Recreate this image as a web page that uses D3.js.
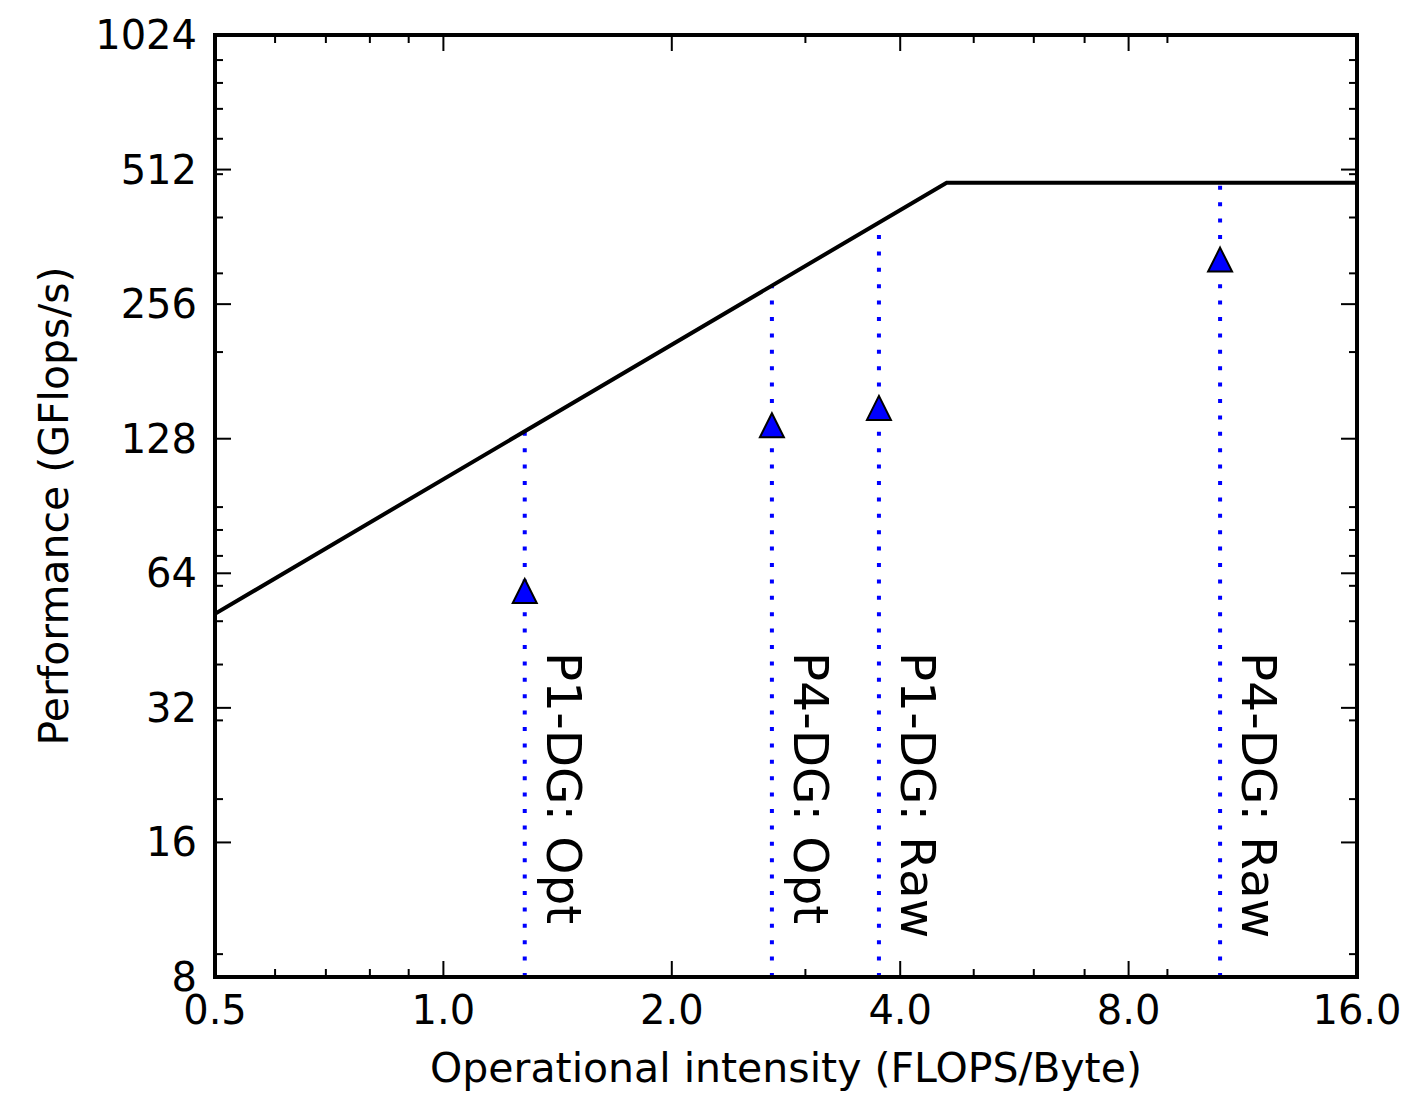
<!DOCTYPE html>
<html>
<head>
<meta charset="utf-8">
<title>Roofline</title>
<script src="https://d3js.org/d3.v7.min.js"></script>
<style>
  body { margin: 0; background: #fff; }
  svg { font-family: "DejaVu Sans", sans-serif; }
</style>
</head>
<body>
<div id="chart"></div>
<script>
// measured kernels
var labels = ["P1-DG: Opt", "P4-DG: Opt", "P1-DG: Raw", "P4-DG: Raw"];
var intensity = [1.28, 2.71, 3.75, 10.56];   // FLOPS/Byte
var perf = [58.4, 137.2, 150, 322];         // GFlops/s

// machine roof
var peakFlops = 478.5;   // GFlops/s
var bandwidth = 103.9;   // GB/s

// axis ticks
var xTicks = [0.5, 1, 2, 4, 8, 16];
var xTickLabels = ["0.5", "1.0", "2.0", "4.0", "8.0", "16.0"];
var yTicks = [8, 16, 32, 64, 128, 256, 512, 1024];
var yTickLabels = ["8", "16", "32", "64", "128", "256", "512", "1024"];

var W = 1408, H = 1095;
var margin = {top: 35, right: 51, bottom: 118, left: 215};
var width = W - margin.left - margin.right,
    height = H - margin.top - margin.bottom;

var svg = d3.select("#chart").append("svg")
    .attr("width", W).attr("height", H);
var g = svg.append("g")
    .attr("transform", "translate(" + margin.left + "," + margin.top + ")");

var x = d3.scaleLog().base(2).domain([0.5, 16]).range([0, width]);
var y = d3.scaleLog().base(2).domain([8, 1024]).range([height, 0]);

// minor ticks like matplotlib: 2..9 x 10^k, skipping the majors
function minors(domain, majors) {
    var out = [];
    for (var k = -2; k <= 3; k++) {
        for (var s = 2; s <= 9; s++) {
            var v = +(s * Math.pow(10, k)).toPrecision(6);
            if (v > domain[0] && v < domain[1] && majors.indexOf(v) < 0) out.push(v);
        }
    }
    return out;
}
var xMinor = minors(x.domain(), xTicks);
var yMinor = minors(y.domain(), yTicks);

g.append("clipPath").attr("id", "clip")
    .append("rect").attr("width", width).attr("height", height);
var plot = g.append("g").attr("clip-path", "url(#clip)");

// dotted guides from the bottom up to the roof
function roof(v) { return Math.min(peakFlops, bandwidth * v); }
plot.selectAll(".guide")
    .data(intensity)
    .enter().append("line")
    .attr("class", "guide")
    .attr("x1", function(d) { return x(d); })
    .attr("x2", function(d) { return x(d); })
    .attr("y1", y(8))
    .attr("y2", function(d) { return y(roof(d)); })
    .attr("stroke", "#0000ff")
    .attr("stroke-width", 4)
    .attr("stroke-dasharray", "4,12.4");

// roofline
var ridge = peakFlops / bandwidth;
var roofPts = [0.5, ridge, 16];
plot.append("path")
    .datum(roofPts)
    .attr("fill", "none")
    .attr("stroke", "#000")
    .attr("stroke-width", 4)
    .attr("d", d3.line()
        .x(function(d) { return x(d); })
        .y(function(d) { return y(roof(d)); }));

// triangle markers
var ms = 12;
g.selectAll(".pt")
    .data(intensity)
    .enter().append("path")
    .attr("class", "pt")
    .attr("transform", function(d, i) {
        return "translate(" + x(d) + "," + y(perf[i]) + ")";
    })
    .attr("d", "M0," + (-ms) + "L" + ms + "," + ms + "L" + (-ms) + "," + ms + "Z")
    .attr("fill", "#0000ff")
    .attr("stroke", "#000")
    .attr("stroke-width", 2)
    .attr("stroke-linejoin", "miter");

// rotated labels
g.selectAll(".lbl")
    .data(labels)
    .enter().append("text")
    .attr("class", "lbl")
    .attr("transform", function(d, i) {
        return "translate(" + (x(intensity[i]) + 22) + "," + (y(42) - 3) + ") rotate(90)";
    })
    .attr("font-size", 48.5)
    .attr("fill", "#000")
    .text(function(d) { return d; });

// ticks on all four sides, pointing inward
function drawTicks(vals, len, scale, side) {
    var sel = g.append("g").selectAll("line").data(vals).enter().append("line")
        .attr("stroke", "#000").attr("stroke-width", 2);
    if (side === "bottom" || side === "top") {
        var y0 = side === "bottom" ? height : 0,
            y1 = side === "bottom" ? height - len : len;
        sel.attr("x1", function(d) { return scale(d); })
           .attr("x2", function(d) { return scale(d); })
           .attr("y1", y0).attr("y2", y1);
    } else {
        var x0 = side === "left" ? 0 : width,
            x1 = side === "left" ? len : width - len;
        sel.attr("y1", function(d) { return scale(d); })
           .attr("y2", function(d) { return scale(d); })
           .attr("x1", x0).attr("x2", x1);
    }
}
["bottom", "top"].forEach(function(s) {
    drawTicks(xTicks, 16, x, s);
    drawTicks(xMinor, 8, x, s);
});
["left", "right"].forEach(function(s) {
    drawTicks(yTicks, 16, y, s);
    drawTicks(yMinor, 8, y, s);
});

// frame
g.append("rect")
    .attr("width", width).attr("height", height)
    .attr("fill", "none").attr("stroke", "#000").attr("stroke-width", 4);

// tick labels
g.selectAll(".xl")
    .data(xTicks)
    .enter().append("text")
    .attr("x", function(d) { return x(d); })
    .attr("y", height + 47)
    .attr("text-anchor", "middle")
    .attr("font-size", 40)
    .text(function(d, i) { return xTickLabels[i]; });

g.selectAll(".yl")
    .data(yTicks)
    .enter().append("text")
    .attr("x", -18)
    .attr("y", function(d) { return y(d) + 14; })
    .attr("text-anchor", "end")
    .attr("font-size", 40)
    .text(function(d, i) { return yTickLabels[i]; });

// axis titles
g.append("text")
    .attr("x", width / 2)
    .attr("y", height + 105)
    .attr("text-anchor", "middle")
    .attr("font-size", 41)
    .text("Operational intensity (FLOPS/Byte)");

g.append("text")
    .attr("transform", "translate(" + (-147) + "," + (height / 2) + ") rotate(-90)")
    .attr("text-anchor", "middle")
    .attr("font-size", 41)
    .text("Performance (GFlops/s)");
</script>
</body>
</html>
